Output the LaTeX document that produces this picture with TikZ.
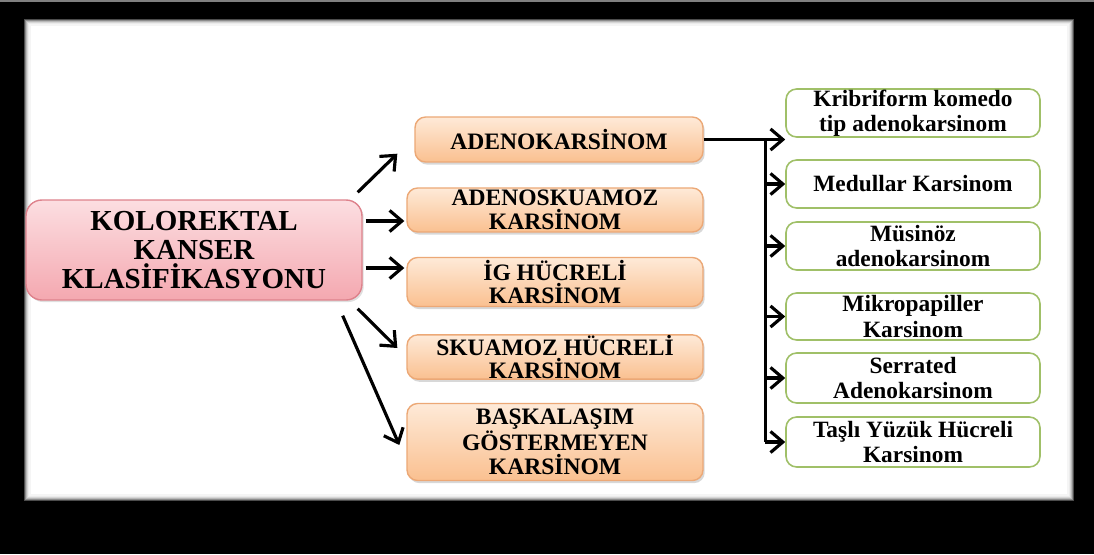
\documentclass[tikz,border=0pt]{standalone}
\usepackage{fontspec}
\setmainfont{Liberation Serif}
\usetikzlibrary{arrows.meta,shadows}
\definecolor{pinktop}{RGB}{252,222,225}
\definecolor{pinkbot}{RGB}{244,168,176}
\definecolor{pinkline}{RGB}{222,130,140}
\definecolor{orangetop}{RGB}{254,234,216}
\definecolor{orangebot}{RGB}{250,192,144}
\definecolor{orangeline}{RGB}{236,168,118}
\definecolor{greenline}{RGB}{160,192,104}

\begin{document}
\begin{tikzpicture}[x=0.02cm,y=-0.02cm,
  every node/.style={font=\bfseries, align=center, inner sep=0pt},
  mainbox/.style={rounded corners=9pt, draw=pinkline, line width=0.8pt,
    top color=pinktop, bottom color=pinkbot, minimum width=6.72cm, minimum height=2cm,
    font=\bfseries\fontsize{16.5}{16.5}\selectfont,
    drop shadow={shadow xshift=1pt, shadow yshift=-1.2pt, opacity=0.25}},
  typebox/.style={rounded corners=6pt, draw=orangeline, line width=0.8pt,
    top color=orangetop, bottom color=orangebot, minimum width=5.92cm,
    font=\bfseries\fontsize{13.4}{13.6}\selectfont,
    drop shadow={shadow xshift=1pt, shadow yshift=-1.5pt, opacity=0.3}},
  subbox/.style={rounded corners=6pt, draw=greenline, line width=0.9pt,
    fill=white, minimum width=5.08cm,
    font=\bfseries\fontsize{13.3}{14.5}\selectfont},
  arr/.style={line width=1.8pt, -{Straight Barb[length=7pt,width=12pt]}},
  trunk/.style={line width=1.8pt}]

\useasboundingbox (0,0) rectangle (1094,554);

% the black frame with the white sheet inside
\fill[black] (0,0) rectangle (1094,554);
\draw[gray, line width=0.8pt] (0,1) -- (1094,1);
\fill[white] (25,20) rectangle (1073,500);
\foreach \d/\c in {0/70,1/45,2/28,3/16,4/8,5/4}
  \draw[black!\c, line width=0.6pt] ({25+\d},{20+\d}) rectangle ({1073-\d},{500-\d});

% the main box
\node[mainbox] (kks) at (194,250) {KOLOREKTAL\\KANSER\\KLASİFİKASYONU};

% the histological types
\node[typebox, minimum width=5.76cm, minimum height=0.9cm] (adeno) at (559,139.5) {ADENOKARSİNOM};
\node[typebox, minimum height=0.88cm] (adsk) at (555,210) {ADENOSKUAMOZ\\KARSİNOM};
\node[typebox, minimum height=0.98cm] (igh) at (555,282) {İG HÜCRELİ\\KARSİNOM};
\node[typebox, minimum height=0.84cm] (skh) at (555,357) {SKUAMOZ HÜCRELİ\\KARSİNOM};
\node[typebox, minimum height=1.54cm] (bgk) at (555,442) {BAŞKALAŞIM\\GÖSTERMEYEN\\KARSİNOM};

% the adenocarcinoma subtypes
\node[subbox, minimum height=0.96cm] (krib) at (913,113) {Kribriform komedo\\tip adenokarsinom};
\node[subbox, minimum height=0.96cm] (medu) at (913,184) {Medullar Karsinom};
\node[subbox, minimum height=0.96cm] (musi) at (913,246) {Müsinöz\\adenokarsinom};
\node[subbox, minimum height=0.94cm] (mikr) at (913,316.5) {Mikropapiller\\Karsinom};
\node[subbox, minimum height=1cm] (serr) at (913,378) {Serrated\\Adenokarsinom};
\node[subbox, minimum height=1cm] (tasl) at (913,442) {Taşlı Yüzük Hücreli\\Karsinom};

% arrows from the main box
\draw[arr] ([shift={(-5,-7)}]kks.north east) -- ([shift={(-17,-9)}]adeno.south west);
\draw[arr] ([shift={(3,-29)}]kks.east) -- ([shift={(-2,11)}]adsk.west);
\draw[arr] ([shift={(3,18)}]kks.east) -- ([shift={(-2,-14)}]igh.west);
\draw[arr] ([shift={(-5,8)}]kks.south east) -- ([shift={(-9,-9)}]skh.west);
\draw[arr] ([shift={(-20,15)}]kks.south east) -- ([shift={(-7,3)}]bgk.west);

% the branching line to the subtypes
\coordinate (split) at ([xshift=35]adeno.east);
\draw[arr] (adeno.east) -- (krib.west |- adeno.east);
\draw[trunk] (split) -- (split |- tasl.west);
\foreach \n in {medu,musi,mikr,serr,tasl}
  \draw[arr] (split |- \n.west) -- (\n.west);

\end{tikzpicture}
\end{document}
